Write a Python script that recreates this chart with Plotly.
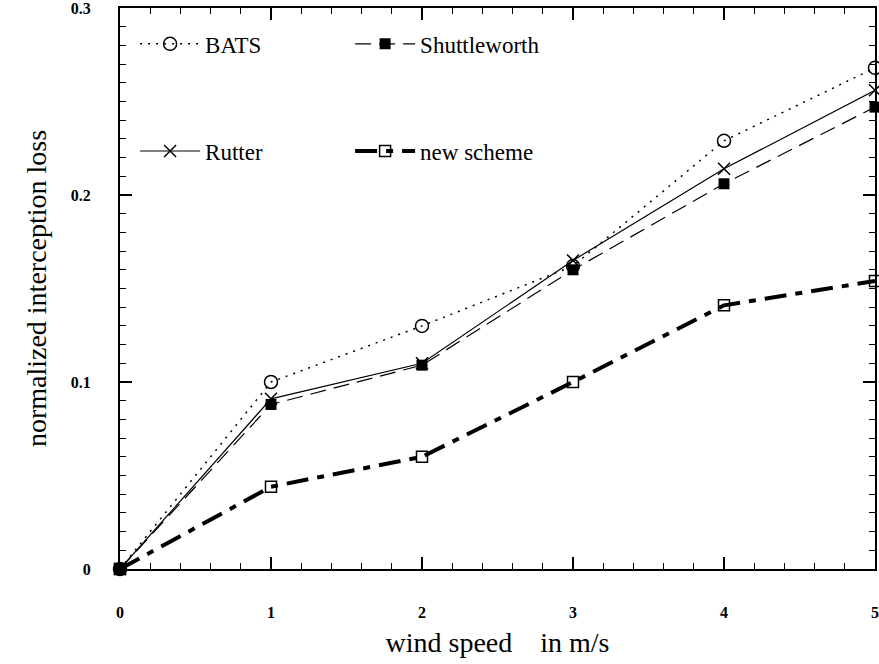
import plotly.graph_objects as go

wind = [0, 1, 2, 3, 4, 5]
bats = [0, 0.100, 0.130, 0.162, 0.229, 0.268]
rutter = [0, 0.091, 0.110, 0.165, 0.214, 0.256]
shuttleworth = [0, 0.088, 0.109, 0.160, 0.206, 0.247]
new_scheme = [0, 0.044, 0.060, 0.100, 0.141, 0.154]

fig = go.Figure()
fig.add_trace(go.Scatter(x=wind, y=bats, name="BATS", mode="lines+markers",
                         line=dict(color="black", width=1.5, dash="2px,6px"),
                         marker=dict(symbol="circle-open", size=13, color="black", line=dict(width=1.5)),
                         legend="legend", cliponaxis=False))
fig.add_trace(go.Scatter(x=wind, y=shuttleworth, name="Shuttleworth", mode="lines+markers",
                         line=dict(color="black", width=1.2, dash="16px,8px"),
                         marker=dict(symbol="square", size=11, color="black"),
                         legend="legend", cliponaxis=False))
fig.add_trace(go.Scatter(x=wind, y=rutter, name="Rutter", mode="lines+markers",
                         line=dict(color="black", width=1.2),
                         marker=dict(symbol="x-thin-open", size=12, color="black", line=dict(width=1.5)),
                         legend="legend2", cliponaxis=False))
fig.add_trace(go.Scatter(x=wind, y=new_scheme, name="new scheme", mode="lines+markers",
                         line=dict(color="black", width=4, dash="22px,9px,7px,9px"),
                         marker=dict(symbol="square-open", size=11, color="black", line=dict(width=1.5)),
                         legend="legend2", cliponaxis=False))

tickfont = dict(family="Liberation Serif", size=16, color="black", weight="bold")
legfont = dict(family="Liberation Serif", size=23, color="black")
titlefont = dict(family="Liberation Serif", size=28, color="black")

fig.update_layout(
    width=879, height=664,
    margin=dict(l=120, r=4, t=8, b=95),
    paper_bgcolor="white", plot_bgcolor="white",
    xaxis=dict(range=[0, 5], tickvals=[0, 1, 2, 3, 4, 5], ticks="inside", ticklen=12, tickwidth=1.5,
               tickcolor="black", showline=True, linecolor="black", linewidth=2, mirror="ticks",
               showgrid=False, zeroline=False, tickfont=tickfont, ticklabelstandoff=28,
               automargin=False, ticklabeloverflow="allow",
               minor=dict(dtick=0.2, ticks="inside", ticklen=6, tickcolor="black", tickwidth=1),
               title=dict(text="wind speed\u00a0\u00a0\u00a0\u00a0in m/s",
                          font=titlefont, standoff=12)),
    yaxis=dict(range=[0, 0.3], tickvals=[0, 0.1, 0.2, 0.3], ticktext=["0", "0.1", "0.2", "0.3"],
               ticks="inside", ticklen=12, tickwidth=1.5,
               tickcolor="black", showline=True, linecolor="black", linewidth=2, mirror="ticks",
               showgrid=False, zeroline=False, tickfont=tickfont, ticklabelstandoff=24,
               automargin=False, ticklabeloverflow="allow",
               minor=dict(dtick=0.01, ticks="inside", ticklen=6, tickcolor="black", tickwidth=1),
               title=dict(text="normalized interception loss", font=titlefont, standoff=16)),
    legend=dict(orientation="h", x=0.02, y=0.936, xanchor="left", yanchor="middle",
                entrywidth=140, entrywidthmode="pixels", font=legfont, bgcolor="rgba(0,0,0,0)",
                itemwidth=60),
    legend2=dict(orientation="h", x=0.02, y=0.745, xanchor="left", yanchor="middle",
                 entrywidth=140, entrywidthmode="pixels", font=legfont, bgcolor="rgba(0,0,0,0)",
                 itemwidth=60),
)

fig.write_html("out.html", config={"displayModeBar": False},
               post_script="document.body.style.margin='0';document.body.style.overflow='hidden';")
